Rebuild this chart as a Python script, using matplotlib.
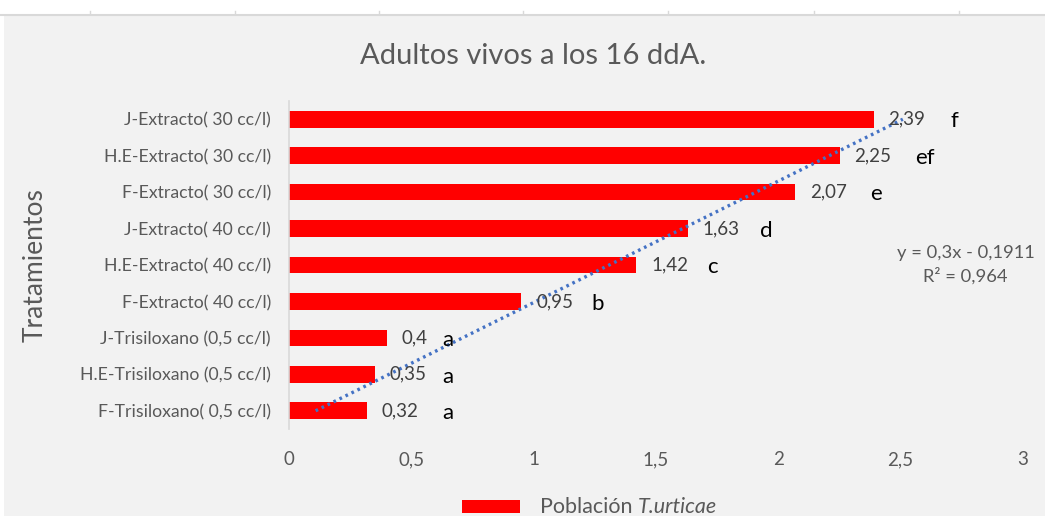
import numpy as np
import matplotlib
matplotlib.use("Agg")
import matplotlib.pyplot as plt
from matplotlib.patches import Rectangle
from matplotlib.lines import Line2D

plt.rcParams['font.family'] = ['Lato', 'DejaVu Sans']

# Data (bottom to top)
categories = [
    "F-Trisiloxano( 0,5 cc/l)",
    "H.E-Trisiloxano (0,5 cc/l)",
    "J-Trisiloxano (0,5 cc/l)",
    "F-Extracto( 40 cc/l)",
    "H.E-Extracto( 40 cc/l)",
    "J-Extracto( 40 cc/l)",
    "F-Extracto( 30 cc/l)",
    "H.E-Extracto( 30 cc/l)",
    "J-Extracto( 30 cc/l)",
]
values = [0.32, 0.35, 0.40, 0.95, 1.42, 1.63, 2.07, 2.25, 2.39]
letters = ["a", "a", "a", "b", "c", "d", "e", "ef", "f"]
letter_x = [0.65, 0.65, 0.65, 1.26, 1.73, 1.95, 2.40, 2.60, 2.72]
xticks = [0, 0.5, 1, 1.5, 2, 2.5, 3]
xtick_labels = ["0", "0,5", "1", "1,5", "2", "2,5", "3"]

W, H = 1045, 516
fig = plt.figure(figsize=(W / 100, H / 100), dpi=100)
fig.patch.set_facecolor("white")
# chart area background
fig.patches.append(Rectangle((4 / W, 0), 1 - 4 / W, 1 - 15 / H, transform=fig.transFigure,
                             facecolor="#F2F2F2", edgecolor="none", zorder=-10))
fig.lines.append(Line2D([0, 1], [1 - 14.5 / H] * 2, transform=fig.transFigure,
                        color="#D9D9D9", lw=1.5, zorder=-9))
for px in [90, 235, 379, 523, 668, 814, 959]:
    fig.lines.append(Line2D([px / W] * 2, [1 - 14 / H, 1 - 11 / H], transform=fig.transFigure,
                            color="#D9D9D9", lw=1, zorder=-9))

ax = fig.add_axes([289 / W, 1 - 429 / H, (1023 - 289) / W, (429 - 101) / H])
ax.set_facecolor("none")

pos = np.arange(len(categories))
ax.barh(pos, values, height=0.46, color="#FF0000", zorder=2)

# linear trendline (value vs. category index 1..n)
k = pos + 1
slope, intercept = np.polyfit(k, values, 1)
trend = slope * k + intercept
ax.plot(trend, pos, linestyle=(0, (0.8, 1.2)), color="#4472C4", lw=2.4, zorder=3)

for p, v in zip(pos, values):
    ax.text(v + 0.06, p, f"{v:g}".replace(".", ","), va="center", ha="left",
            fontsize=13.5, color="#404040", zorder=4)
for p, lx, l in zip(pos, letter_x, letters):
    ax.text(lx, p - 0.06, l, va="center", ha="center", fontsize=16, color="#000000", zorder=4)

ax.text(2.765, 4.0, "y = 0,3x - 0,1911\nR² = 0,964", ha="center", va="center",
        fontsize=13.2, color="#595959", linespacing=1.45)

ax.set_xlim(0, 3)
ax.set_ylim(-0.5, len(categories) - 0.5)
ax.set_xticks(xticks)
ax.set_xticklabels(xtick_labels)
ax.set_yticks(pos)
ax.set_yticklabels(categories)
ax.tick_params(axis="both", length=0, colors="#595959", labelsize=13.5)
ax.tick_params(axis="y", labelsize=12.7, pad=13)
ax.tick_params(axis="x", pad=16)
for s in ["top", "right", "bottom"]:
    ax.spines[s].set_visible(False)
ax.spines["left"].set_color("#D9D9D9")
ax.spines["left"].set_linewidth(1.2)

ax.set_ylabel("Tratamientos", fontsize=19, color="#595959")
ax.yaxis.set_label_coords(-241 / (1023 - 289), 0.5)

fig.text(533 / W, 1 - 56 / H, "Adultos vivos a los 16 ddA.", ha="center", va="center",
         fontsize=21, color="#595959")

# legend (drawn manually so the species name can be italic)
fig.patches.append(Rectangle((462 / W, 1 - 513 / H), 58 / W, 13 / H, transform=fig.transFigure,
                             facecolor="#FF0000", edgecolor="none"))
t1 = fig.text(540 / W, 1 - 507 / H, "Población ", ha="left", va="center",
              fontsize=15.5, color="#595959")
fig.canvas.draw()
bb = t1.get_window_extent()
fig.text(bb.x1 / W, 1 - 507 / H, "T.urticae", ha="left", va="center",
         fontsize=15.5, color="#595959", style="italic")

fig.savefig("out.png", dpi=100, facecolor=fig.get_facecolor())
